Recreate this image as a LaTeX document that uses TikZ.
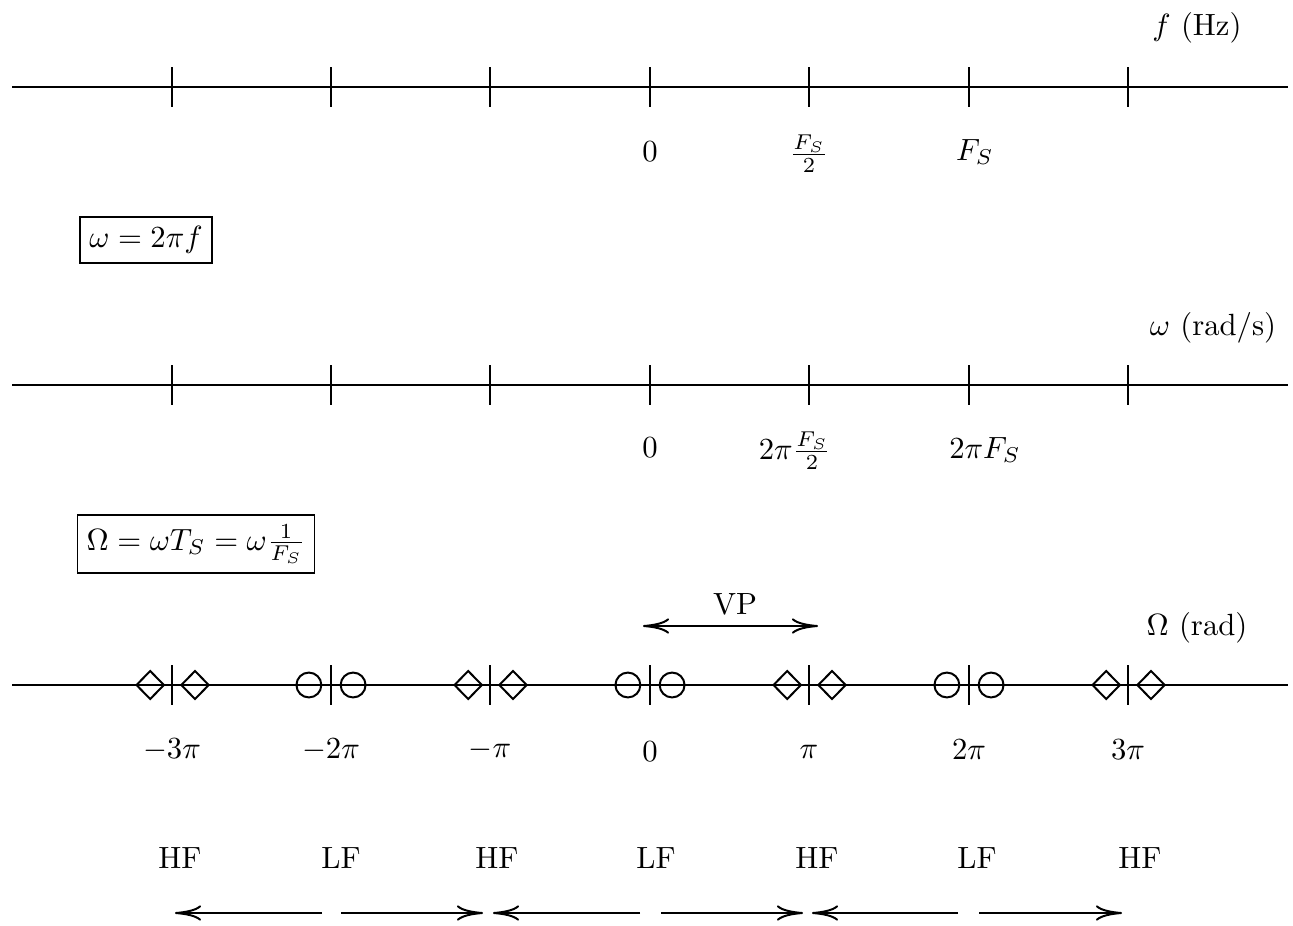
\documentclass[tikz,border=0pt]{standalone}
\usetikzlibrary{shapes.geometric,arrows.meta}
\begin{document}
\begin{tikzpicture}[x=0.3257pt,y=-0.3257pt,line width=0.65pt,
  axisline/.style={line width=0.65pt},
  tickmark/.style={line width=0.65pt},
  lbl/.style={inner sep=0pt},
  dmd/.style={draw,diamond,inner sep=0pt,minimum width=9.2pt,minimum height=9.4pt,line width=0.65pt},
  crc/.style={draw,circle,inner sep=0pt,minimum size=8.1pt,line width=0.65pt},
  boxed/.style={draw,line width=0.5pt,inner sep=3pt},
  tipstyle/.style={>={Computer Modern Rightarrow[length=8.5pt,width=5pt]}},
  arr/.style={tipstyle,->,line width=0.65pt},
  darr/.style={tipstyle,<->,line width=0.65pt}]
\useasboundingbox (0,0) rectangle (1293,925);
% axes
\foreach \yy/\n in {87/a,385/b,685/c}{
  \coordinate (\n-L) at (12,\yy);
  \coordinate (\n-R) at (1288,\yy);
  \draw[axisline] (\n-L) -- (\n-R);
}
\foreach \xx [count=\i] in {172,331,490,650,809,969,1128}{
  \foreach \yy/\n in {87/a,385/b,685/c}{
    \coordinate (\n-t\i) at (\xx,\yy);
  }
  \draw[tickmark] ([yshift=6.5pt]a-t\i) -- ([yshift=-6.5pt]a-t\i);
  \draw[tickmark] ([yshift=6.5pt]b-t\i) -- ([yshift=-6.5pt]b-t\i);
  \draw[tickmark] ([yshift=6.5pt]c-t\i) -- ([yshift=-6.5pt]c-t\i);
}
% markers on third axis
\foreach \i in {1,3,5,7}{
  \node[dmd] (dl\i) at ([xshift=-7.1pt]c-t\i) {};
  \node[dmd] (dr\i) at ([xshift=7.5pt]c-t\i) {};
}
\foreach \i in {2,4,6}{
  \node[crc] (cl\i) at ([xshift=-7.2pt]c-t\i) {};
  \node[crc] (cr\i) at ([xshift=7.2pt]c-t\i) {};
}
% axis titles
\node[lbl] (fa) at (1197,28) {$f$ (Hz)};
\node[lbl] (wa) at (1213,328) {$\omega$ (rad/s)};
\node[lbl] (Oa) at (1197,628) {$\Omega$ (rad)};
% labels axis 1
\node[lbl] (a0) at (650,152) {$0$};
\node[lbl] (a1) at (809,154) {$\frac{F_S}{2}$};
\node[lbl] (a2) at (975,152) {$F_S$};
% labels axis 2
\node[lbl] (b0) at (650,448) {$0$};
\node[lbl] (b1) at (795,451) {$2\pi\frac{F_S}{2}$};
\node[lbl] (b2) at (985,450) {$2\pi F_S$};
% boxes
\node[boxed] (eq1) at (146,240) {$\omega=2\pi f$};
\node[boxed] (eq2) at (196,544) {$\Omega=\omega T_S=\omega\frac{1}{F_S}$};
% VP
\node[lbl] (vp) at (735,604) {VP};
\coordinate (vpl) at (643,626);
\coordinate (vpr) at (818,626);
\draw[darr] (vpl) -- (vpr);
% labels axis 3
\node[lbl] (c1) at (172,750) {$-3\pi$};
\node[lbl] (c2) at (331,750) {$-2\pi$};
\node[lbl] (c3) at (490,750) {$-\pi$};
\node[lbl] (c4) at (650,752) {$0$};
\node[lbl] (c5) at (809,752) {$\pi$};
\node[lbl] (c6) at (969,750) {$2\pi$};
\node[lbl] (c7) at (1128,750) {$3\pi$};
% HF/LF
\node[lbl] (h1) at (180,858) {HF};
\node[lbl] (h2) at (341,858) {LF};
\node[lbl] (h3) at (497,858) {HF};
\node[lbl] (h4) at (656,858) {LF};
\node[lbl] (h5) at (817,858) {HF};
\node[lbl] (h6) at (977,858) {LF};
\node[lbl] (h7) at (1140,858) {HF};
% bottom arrows
\coordinate (p1) at (322,913); \coordinate (q1) at (175,913);
\coordinate (p2) at (341,913); \coordinate (q2) at (483,913);
\coordinate (p3) at (640,913); \coordinate (q3) at (493,913);
\coordinate (p4) at (661,913); \coordinate (q4) at (803,913);
\coordinate (p5) at (958,913); \coordinate (q5) at (812,913);
\coordinate (p6) at (979,913); \coordinate (q6) at (1122,913);
\foreach \i in {1,...,6}{ \draw[arr] (p\i) -- (q\i); }
\end{tikzpicture}
\end{document}
